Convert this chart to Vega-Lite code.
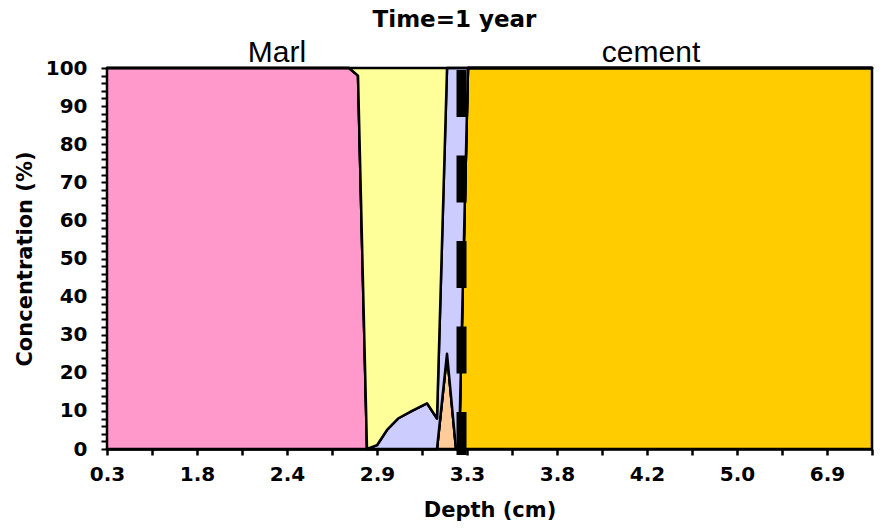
{
  "$schema": "https://vega.github.io/schema/vega-lite/v6.json",
  "autosize": {"type": "none"},
  "padding": {"left": 107, "top": 68, "right": 9, "bottom": 80},
  "width": 765,
  "height": 381,
  "config": {
    "view": {"stroke": null},
    "font": "DejaVu Sans"
  },
  "title": {
    "text": "Time=1 year",
    "font": "DejaVu Sans",
    "fontSize": 23,
    "fontWeight": "bold",
    "color": "#000000",
    "anchor": "middle",
    "dx": -35,
    "offset": 6
  },
  "resolve": {"axis": {"x": "independent", "y": "independent"}},
  "layer": [
    {
      "data": {
        "values": [
          {"u": 0, "s": "gold", "k": 1, "v": 0}, {"u": 0, "s": "peach", "k": 2, "v": 0}, {"u": 0, "s": "pink", "k": 3, "v": 100}, {"u": 0, "s": "lavender", "k": 4, "v": 0}, {"u": 0, "s": "yellow", "k": 5, "v": 0},
          {"u": 5.378, "s": "gold", "k": 1, "v": 0}, {"u": 5.378, "s": "peach", "k": 2, "v": 0}, {"u": 5.378, "s": "pink", "k": 3, "v": 100}, {"u": 5.378, "s": "lavender", "k": 4, "v": 0}, {"u": 5.378, "s": "yellow", "k": 5, "v": 0},
          {"u": 5.578, "s": "gold", "k": 1, "v": 0}, {"u": 5.578, "s": "peach", "k": 2, "v": 0}, {"u": 5.578, "s": "pink", "k": 3, "v": 98}, {"u": 5.578, "s": "lavender", "k": 4, "v": 0}, {"u": 5.578, "s": "yellow", "k": 5, "v": 2},
          {"u": 5.778, "s": "gold", "k": 1, "v": 0}, {"u": 5.778, "s": "peach", "k": 2, "v": 0}, {"u": 5.778, "s": "pink", "k": 3, "v": 0}, {"u": 5.778, "s": "lavender", "k": 4, "v": 0}, {"u": 5.778, "s": "yellow", "k": 5, "v": 100},
          {"u": 6.0, "s": "gold", "k": 1, "v": 0}, {"u": 6.0, "s": "peach", "k": 2, "v": 0}, {"u": 6.0, "s": "pink", "k": 3, "v": 0}, {"u": 6.0, "s": "lavender", "k": 4, "v": 1}, {"u": 6.0, "s": "yellow", "k": 5, "v": 99},
          {"u": 6.222, "s": "gold", "k": 1, "v": 0}, {"u": 6.222, "s": "peach", "k": 2, "v": 0}, {"u": 6.222, "s": "pink", "k": 3, "v": 0}, {"u": 6.222, "s": "lavender", "k": 4, "v": 5}, {"u": 6.222, "s": "yellow", "k": 5, "v": 95},
          {"u": 6.467, "s": "gold", "k": 1, "v": 0}, {"u": 6.467, "s": "peach", "k": 2, "v": 0}, {"u": 6.467, "s": "pink", "k": 3, "v": 0}, {"u": 6.467, "s": "lavender", "k": 4, "v": 8}, {"u": 6.467, "s": "yellow", "k": 5, "v": 92},
          {"u": 6.778, "s": "gold", "k": 1, "v": 0}, {"u": 6.778, "s": "peach", "k": 2, "v": 0}, {"u": 6.778, "s": "pink", "k": 3, "v": 0}, {"u": 6.778, "s": "lavender", "k": 4, "v": 10}, {"u": 6.778, "s": "yellow", "k": 5, "v": 90},
          {"u": 7.111, "s": "gold", "k": 1, "v": 0}, {"u": 7.111, "s": "peach", "k": 2, "v": 0}, {"u": 7.111, "s": "pink", "k": 3, "v": 0}, {"u": 7.111, "s": "lavender", "k": 4, "v": 12}, {"u": 7.111, "s": "yellow", "k": 5, "v": 88},
          {"u": 7.333, "s": "gold", "k": 1, "v": 0}, {"u": 7.333, "s": "peach", "k": 2, "v": 0}, {"u": 7.333, "s": "pink", "k": 3, "v": 0}, {"u": 7.333, "s": "lavender", "k": 4, "v": 8}, {"u": 7.333, "s": "yellow", "k": 5, "v": 92},
          {"u": 7.556, "s": "gold", "k": 1, "v": 0}, {"u": 7.556, "s": "peach", "k": 2, "v": 25}, {"u": 7.556, "s": "pink", "k": 3, "v": 0}, {"u": 7.556, "s": "lavender", "k": 4, "v": 75}, {"u": 7.556, "s": "yellow", "k": 5, "v": 0},
          {"u": 7.756, "s": "gold", "k": 1, "v": 0}, {"u": 7.756, "s": "peach", "k": 2, "v": 0}, {"u": 7.756, "s": "pink", "k": 3, "v": 0}, {"u": 7.756, "s": "lavender", "k": 4, "v": 100}, {"u": 7.756, "s": "yellow", "k": 5, "v": 0},
          {"u": 7.822, "s": "gold", "k": 1, "v": 0}, {"u": 7.822, "s": "peach", "k": 2, "v": 0}, {"u": 7.822, "s": "pink", "k": 3, "v": 0}, {"u": 7.822, "s": "lavender", "k": 4, "v": 100}, {"u": 7.822, "s": "yellow", "k": 5, "v": 0},
          {"u": 8.022, "s": "gold", "k": 1, "v": 100}, {"u": 8.022, "s": "peach", "k": 2, "v": 0}, {"u": 8.022, "s": "pink", "k": 3, "v": 0}, {"u": 8.022, "s": "lavender", "k": 4, "v": 0}, {"u": 8.022, "s": "yellow", "k": 5, "v": 0},
          {"u": 17, "s": "gold", "k": 1, "v": 100}, {"u": 17, "s": "peach", "k": 2, "v": 0}, {"u": 17, "s": "pink", "k": 3, "v": 0}, {"u": 17, "s": "lavender", "k": 4, "v": 0}, {"u": 17, "s": "yellow", "k": 5, "v": 0}
        ]
      },
      "mark": {"type": "area", "interpolate": "linear", "stroke": "#000000", "strokeWidth": 2.5, "strokeJoin": "round"},
      "encoding": {
        "x": {
          "field": "u", "type": "quantitative",
          "scale": {"domain": [0, 17], "nice": false, "zero": false},
          "axis": {
            "title": "Depth (cm)",
            "values": [0,1,2,3,4,5,6,7,8,9,10,11,12,13,14,15,16,17],
            "labelExpr": "{'0':'0.3','2':'1.8','4':'2.4','6':'2.9','8':'3.3','10':'3.8','12':'4.2','14':'5.0','16':'6.9'}[datum.value] || ''",
            "labelFont": "DejaVu Sans", "labelFontSize": 20, "labelFontWeight": "bold", "labelColor": "#000000",
            "labelPadding": 9, "labelOverlap": false, "labelFlush": false,
            "titleFont": "DejaVu Sans", "titleFontSize": 21, "titleFontWeight": "bold", "titleColor": "#000000",
            "titlePadding": 15,
            "domainColor": "#000000", "domainWidth": 2.5,
            "tickColor": "#000000", "tickWidth": 2.5, "tickSize": 6,
            "grid": false
          }
        },
        "y": {
          "field": "v", "type": "quantitative", "stack": "zero",
          "scale": {"domain": [0, 100], "nice": false},
          "axis": {
            "title": "Concentration (%)",
            "values": [0,2,4,6,8,10,12,14,16,18,20,22,24,26,28,30,32,34,36,38,40,42,44,46,48,50,52,54,56,58,60,62,64,66,68,70,72,74,76,78,80,82,84,86,88,90,92,94,96,98,100],
            "labelExpr": "datum.value % 10 === 0 ? datum.label : ''",
            "labelFont": "DejaVu Sans", "labelFontSize": 20, "labelFontWeight": "bold", "labelColor": "#000000",
            "labelPadding": 14, "labelOverlap": false, "labelFlush": false,
            "titleFont": "DejaVu Sans", "titleFontSize": 21, "titleFontWeight": "bold", "titleColor": "#000000",
            "titlePadding": 10,
            "domainColor": "#000000", "domainWidth": 2.5,
            "tickColor": "#000000", "tickWidth": 2, "tickSize": 6,
            "grid": false
          }
        },
        "color": {
          "field": "s", "type": "nominal",
          "scale": {"domain": ["gold", "peach", "pink", "lavender", "yellow"], "range": ["#FFCC00", "#FFCC99", "#FF99CC", "#CCCCFF", "#FFFF99"]},
          "legend": null
        },
        "order": {"field": "k", "type": "quantitative"}
      }
    },
    {
      "data": {"values": [{"u": 7.878, "top": 99.5, "bottom": -1.6}]},
      "mark": {"type": "rule", "color": "#000000", "strokeWidth": 10, "strokeDash": [47, 38.5], "clip": false},
      "encoding": {
        "x": {"field": "u", "type": "quantitative", "axis": null},
        "y": {"field": "top", "type": "quantitative", "axis": null},
        "y2": {"field": "bottom"}
      }
    },
    {
      "data": {"values": [{"u": 3.778, "y": 100, "label": "Marl"}, {"u": 12.09, "y": 100, "label": "cement"}]},
      "mark": {"type": "text", "font": "Liberation Sans", "fontSize": 30, "baseline": "alphabetic", "dy": -6, "color": "#000000", "clip": false},
      "encoding": {
        "x": {"field": "u", "type": "quantitative", "axis": null},
        "y": {"field": "y", "type": "quantitative", "axis": null},
        "text": {"field": "label"}
      }
    }
  ]
}
